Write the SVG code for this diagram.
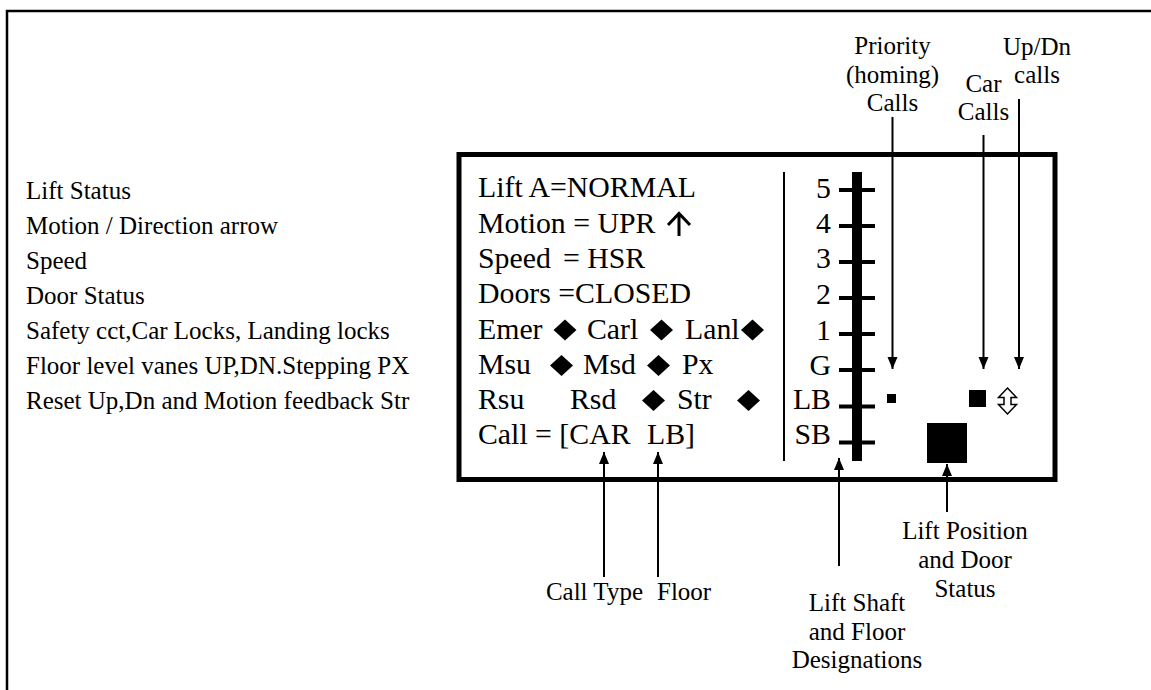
<svg xmlns="http://www.w3.org/2000/svg" width="1151" height="690" viewBox="0 0 1151 690" font-family="'Liberation Serif', 'Times New Roman', Tinos, 'DejaVu Serif', serif">
<defs>
<style>
text{font-family:'Liberation Serif','Times New Roman',Tinos,'DejaVu Serif',serif;fill:#000}
.lbl{font-size:25px}
.in{font-size:29.8px}
.ctr{text-anchor:middle}
.end{text-anchor:end}
.ln{stroke:#000;stroke-width:2;fill:none}
.arr{stroke:#000;stroke-width:2;fill:none;marker-end:url(#ah)}
</style>
<marker id="ah" markerUnits="userSpaceOnUse" markerWidth="12" markerHeight="12" viewBox="0 0 12 12" refX="12" refY="6" orient="auto">
<path d="M0,1 L12,6 L0,11 Z" fill="#000"/>
</marker>
<polygon id="dia" points="0,-10.5 11.5,0 0,10.5 -11.5,0" fill="#000"/>
</defs>
<rect width="1151" height="690" fill="#fff"/>
<path d="M7,690 V11 H1151" stroke="#000" stroke-width="2.5" fill="none"/>

<g id="legend">
<text class="lbl" x="26" y="199">Lift Status</text>
<text class="lbl" x="26" y="234">Motion / Direction arrow</text>
<text class="lbl" x="26" y="269">Speed</text>
<text class="lbl" x="26" y="304">Door Status</text>
<text class="lbl" x="26" y="339">Safety cct,Car Locks, Landing locks</text>
<text class="lbl" x="26" y="374">Floor level vanes UP,DN.Stepping PX</text>
<text class="lbl" x="26" y="409">Reset Up,Dn and Motion feedback Str</text>
</g>

<g id="display">
<rect x="459" y="154.5" width="596" height="325" stroke="#000" stroke-width="5" fill="none"/>
<line class="ln" x1="784" y1="172" x2="784" y2="461"/>
</g>

<g id="status-text">
<text class="in" x="478" y="197">Lift A=NORMAL</text>
<text class="in" x="478" y="232.5">Motion = UPR</text>
<path d="M679,236 V214 M668,225 L679,213.5 L690,225" stroke="#000" stroke-width="3" fill="none"/>
<text class="in" x="478" y="267.5">Speed</text>
<text class="in" x="563" y="267.5">= HSR</text>
<text class="in" x="478" y="303">Doors =CLOSED</text>
<text class="in" x="478" y="338.5">Emer</text>
<use href="#dia" x="565" y="330"/>
<text class="in" x="587" y="338.5">Carl</text>
<use href="#dia" x="661.5" y="330"/>
<text class="in" x="685" y="338.5">Lanl</text>
<use href="#dia" x="752.5" y="330"/>
<text class="in" x="478" y="374">Msu</text>
<use href="#dia" x="561.5" y="365.5"/>
<text class="in" x="583" y="374">Msd</text>
<use href="#dia" x="658.5" y="365.5"/>
<text class="in" x="682" y="374">Px</text>
<text class="in" x="478" y="409">Rsu</text>
<text class="in" x="570" y="409">Rsd</text>
<use href="#dia" x="653.5" y="400.5"/>
<text class="in" x="677" y="409">Str</text>
<use href="#dia" x="748.5" y="400.5"/>
<text class="in" x="478" y="444">Call = [CAR</text>
<text class="in" x="647" y="444">LB]</text>
</g>

<g id="shaft">
<rect x="852" y="172" width="10" height="289" fill="#000"/>
<g fill="#000">
<rect x="839" y="188" width="36" height="4"/>
<rect x="839" y="224" width="36" height="4"/>
<rect x="839" y="260" width="36" height="4"/>
<rect x="839" y="296" width="36" height="4"/>
<rect x="839" y="332" width="36" height="4"/>
<rect x="839" y="368" width="36" height="4"/>
<rect x="839" y="404.5" width="36" height="4"/>
<rect x="839" y="440.5" width="36" height="4"/>
</g>
<text class="in end" x="831" y="198">5</text>
<text class="in end" x="831" y="233">4</text>
<text class="in end" x="831" y="268">3</text>
<text class="in end" x="831" y="303.5">2</text>
<text class="in end" x="831" y="339.5">1</text>
<text class="in end" x="831" y="375">G</text>
<text class="in end" x="831" y="408.5">LB</text>
<text class="in end" x="831" y="444">SB</text>
</g>

<g id="indicators">
<rect x="887" y="394" width="9" height="9" fill="#000"/>
<rect x="969" y="390" width="17" height="17" fill="#000"/>
<polygon points="1007.5,388 1016.5,397.5 1011,397.5 1011,404.5 1016.5,404.5 1007.5,414 998.5,404.5 1004,404.5 1004,397.5 998.5,397.5" fill="#fff" stroke="#000" stroke-width="1.5"/>
<rect x="927" y="423" width="40" height="40" fill="#000"/>
</g>

<g id="label-priority">
<text class="lbl ctr" x="892.5" y="54">Priority</text>
<text class="lbl ctr" x="892.5" y="82.5">(homing)</text>
<text class="lbl ctr" x="892.5" y="111">Calls</text>
</g>
<g id="label-car">
<text class="lbl ctr" x="983.5" y="92">Car</text>
<text class="lbl ctr" x="983.5" y="120">Calls</text>
</g>
<g id="label-updn">
<text class="lbl ctr" x="1037" y="55">Up/Dn</text>
<text class="lbl ctr" x="1037" y="83">calls</text>
</g>
<g id="label-calltype">
<text class="lbl end" x="643" y="600">Call Type</text>
</g>
<g id="label-floor">
<text class="lbl" x="657" y="600">Floor</text>
</g>
<g id="label-shaft">
<text class="lbl ctr" x="857" y="611">Lift Shaft</text>
<text class="lbl ctr" x="857" y="639.5">and Floor</text>
<text class="lbl ctr" x="857" y="668">Designations</text>
</g>
<g id="label-position">
<text class="lbl ctr" x="965" y="539">Lift Position</text>
<text class="lbl ctr" x="965" y="568">and Door</text>
<text class="lbl ctr" x="965" y="597">Status</text>
</g>

<g id="connectors">
<line class="arr" x1="892.5" y1="117" x2="892.5" y2="369"/>
<line class="arr" x1="983.5" y1="135" x2="983.5" y2="369"/>
<line class="arr" x1="1019" y1="99" x2="1019" y2="369"/>
<line class="arr" x1="604" y1="577" x2="604" y2="452"/>
<line class="arr" x1="658" y1="577" x2="658" y2="452"/>
<line class="arr" x1="839" y1="566" x2="839" y2="458"/>
<line class="arr" x1="947" y1="512" x2="947" y2="464"/>
</g>
</svg>
